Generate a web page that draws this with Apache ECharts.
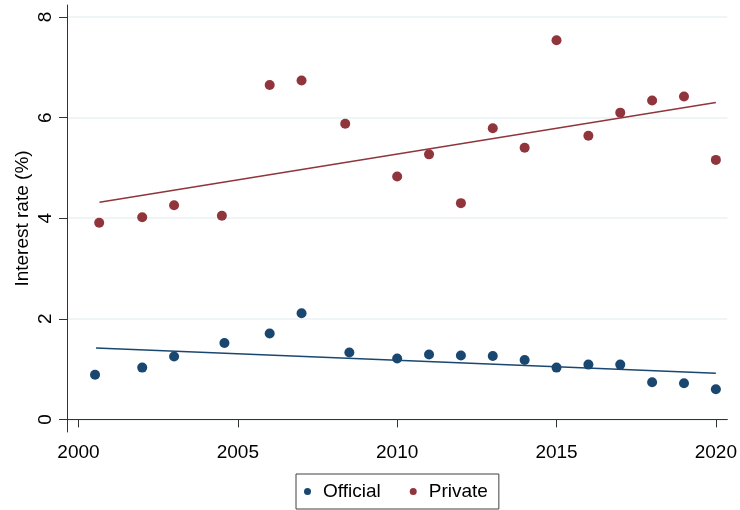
<!DOCTYPE html>
<html>
<head>
<meta charset="utf-8">
<script src="https://cdn.jsdelivr.net/npm/echarts@6/dist/echarts.min.js"></script>
<style>
html,body{margin:0;padding:0;background:#fff;}
#chart{width:740px;height:510px;}
</style>
</head>
<body>
<div id="chart"></div>
<script>
const officialYears = [2000.52, 2002, 2003, 2004.58, 2006, 2007, 2008.5, 2010, 2011, 2012, 2013, 2014, 2015, 2016, 2017, 2018, 2019, 2020];
const officialRates = [0.89, 1.03, 1.25, 1.52, 1.71, 2.11, 1.33, 1.21, 1.29, 1.27, 1.26, 1.18, 1.03, 1.09, 1.09, 0.74, 0.72, 0.60];
const privateYears = [2000.65, 2002, 2003, 2004.5, 2006, 2007, 2008.37, 2010, 2011, 2012, 2013, 2014, 2015, 2016, 2017, 2018, 2019, 2020];
const privateRates = [3.91, 4.02, 4.26, 4.05, 6.65, 6.74, 5.88, 4.83, 5.27, 4.30, 5.79, 5.40, 7.54, 5.64, 6.10, 6.34, 6.42, 5.16];
const officialFitYears = [2000.55, 2020];
const officialFitRates = [1.42, 0.92];
const privateFitYears = [2000.66, 2020];
const privateFitRates = [4.32, 6.30];
const xTicks = [2000, 2005, 2010, 2015, 2020];
const yTicks = [0, 2, 4, 6, 8];

const navy = '#1a476f';
const cranberry = '#90353b';
const font = 'Liberation Sans, Arial, sans-serif';

const pairs = (xs, ys) => xs.map((x, i) => [x, ys[i]]);

const chart = echarts.init(document.getElementById('chart'), null, {renderer: 'canvas'});
chart.setOption({
  animation: false,
  backgroundColor: '#fff',
  grid: {left: 67, right: 12, top: 5, bottom: 78, containLabel: false},
  xAxis: {
    type: 'value',
    min: 1999.64,
    max: 2020.36,
    axisLine: {show: true, lineStyle: {color: '#333', width: 1}},
    axisTick: {show: true, length: 8, customValues: xTicks, lineStyle: {color: '#333'}},
    axisLabel: {customValues: xTicks, margin: 11, color: '#000', fontFamily: font, fontSize: 19, formatter: v => String(v)},
    splitLine: {show: false}
  },
  yAxis: {
    type: 'value',
    min: -0.25,
    max: 8.24,
    name: 'Interest rate (%)',
    nameLocation: 'middle',
    nameGap: 35,
    nameMoveOverlap: false,
    nameTextStyle: {color: '#000', fontFamily: font, fontSize: 19},
    axisLine: {show: true, lineStyle: {color: '#333', width: 1}},
    axisTick: {show: true, length: 8, customValues: yTicks, lineStyle: {color: '#333'}},
    axisLabel: {customValues: yTicks, rotate: 90, margin: 12, color: '#000', fontFamily: font, fontSize: 19, formatter: v => String(v)},
    splitLine: {show: true, lineStyle: {color: '#eaf2f3', width: 1.5}}
  },
  legend: {
    data: ['Official', 'Private'],
    left: 296,
    top: 474,
    orient: 'horizontal',
    padding: [8, 11, 8, 8],
    itemGap: 29,
    itemWidth: 7,
    itemHeight: 7,
    icon: 'circle',
    borderColor: '#404040',
    borderWidth: 1,
    textStyle: {color: '#000', fontFamily: font, fontSize: 19, padding: [0, 0, 0, 7]}
  },
  series: [
    {name: 'Official', type: 'scatter', data: pairs(officialYears, officialRates), symbolSize: 10, itemStyle: {color: navy, opacity: 1}},
    {name: 'Private', type: 'scatter', data: pairs(privateYears, privateRates), symbolSize: 10, itemStyle: {color: cranberry, opacity: 1}},
    {name: 'Official fit', type: 'line', data: pairs(officialFitYears, officialFitRates), showSymbol: false, symbol: 'none', lineStyle: {color: navy, width: 1.5}, itemStyle: {color: navy}},
    {name: 'Private fit', type: 'line', data: pairs(privateFitYears, privateFitRates), showSymbol: false, symbol: 'none', lineStyle: {color: cranberry, width: 1.5}, itemStyle: {color: cranberry}}
  ]
});
</script>
</body>
</html>
